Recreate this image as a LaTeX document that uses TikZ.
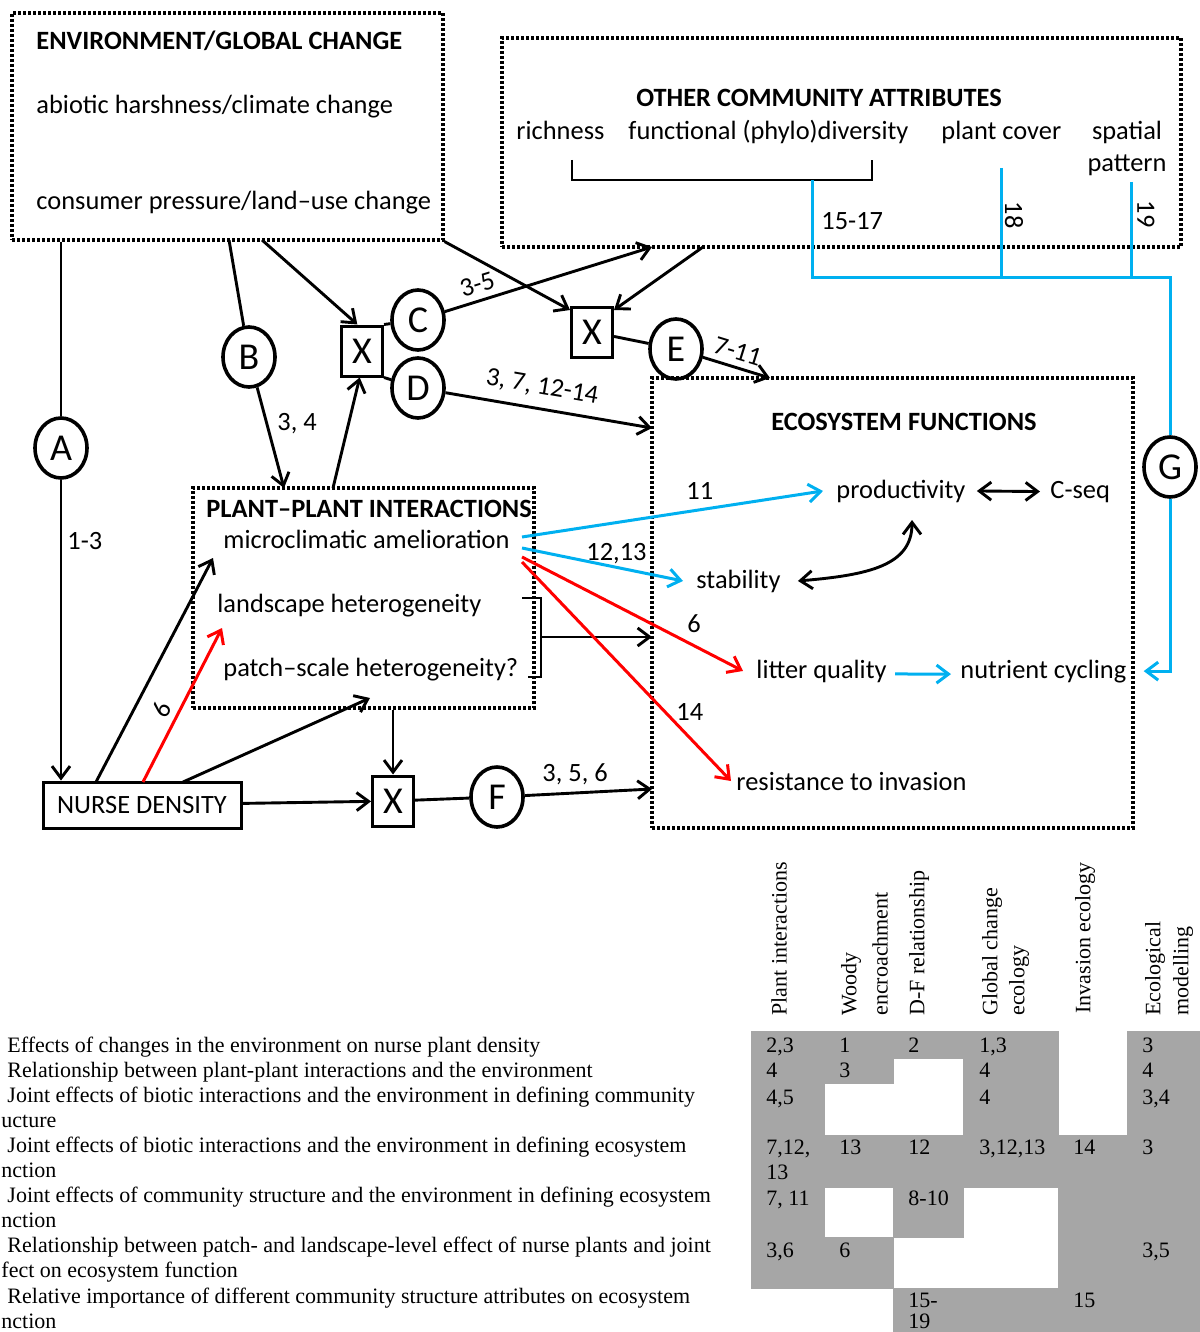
\documentclass[tikz,border=0pt]{standalone}
\usepackage{fontspec}
\setmainfont{Carlito}
\newfontfamily\tabfont{Liberation Serif}
\usetikzlibrary{shapes.geometric,arrows.meta}
\definecolor{fnblue}{RGB}{0,176,240}
\definecolor{fnred}{RGB}{255,0,0}
\definecolor{cellgray}{RGB}{166,166,166}

\begin{document}
\begin{tikzpicture}
  [x=0.5pt, y=-0.5pt, >={Straight Barb[length=6pt,width=9pt]}, line width=1.45pt,
   every node/.style={font=\fontsize{13.2}{15}\selectfont, inner sep=0pt},
   group/.style={draw=black, line width=1.6pt, dash pattern=on 1.4pt off 1.1pt},
   letter/.style={shape=ellipse, draw=black, line width=1.8pt, minimum width=26pt, minimum height=30pt, font=\fontsize{19}{19}\selectfont},
   cross/.style={shape=rectangle, draw=black, line width=1.5pt, minimum width=20.5pt, minimum height=25pt, font=\fontsize{19}{19}\selectfont},
   title/.style={font=\fontsize{13.2}{15}\selectfont\bfseries},
   cyanline/.style={draw=fnblue, line width=1.5pt},
   redline/.style={draw=fnred, line width=1.5pt},
   cell/.style={font=\tabfont\fontsize{11}{13}\selectfont, anchor=base west},
   head/.style={font=\tabfont\fontsize{11}{13}\selectfont, rotate=90, anchor=west}]
  \useasboundingbox (0,0) rectangle (1199,1332);

  % table shading
  \foreach \xa/\ya/\xb/\yb in {751/1031/824/1288, 824/1031/893/1083, 824/1135/893/1187,
      824/1237/893/1288, 893/1031/963/1058, 893/1135/963/1237, 893/1288/963/1332,
      963/1031/1058/1187, 963/1288/1058/1332, 1058/1135/1127/1332, 1127/1031/1199/1332}
    \filldraw[fill=cellgray, draw=cellgray, line width=0.4pt] (\xa,\ya) rectangle (\xb,\yb);

  % boxes
  \node[group, minimum width=215.5pt, minimum height=113.5pt] (env) at (227.5,126.5) {};
  \node[group, minimum width=339.5pt, minimum height=104.5pt] (other) at (841.5,142.5) {};
  \node[group, minimum width=170.5pt, minimum height=110pt] (plant) at (363.5,598) {};
  \node[group, minimum width=240.5pt, minimum height=225pt] (eco) at (892.5,603) {};
  \node[draw=black, line width=1.5pt, minimum width=99pt, minimum height=23pt] (nurse) at (142,805) {NURSE DENSITY};

  \node[title, anchor=base west] (envtitle) at (35,50) {ENVIRONMENT/GLOBAL CHANGE};
  \node[anchor=base west] (abiotic) at (35,114) {abiotic harshness/climate change};
  \node[anchor=base west] (consumer) at (35,210) {consumer pressure/land–use change};

  \node[title, anchor=base] (othtitle) at (819,107) {OTHER COMMUNITY ATTRIBUTES};
  \node[anchor=base west] (rich) at (515,140) {richness};
  \node[anchor=base west] (func) at (627,140) {functional (phylo)diversity};
  \node[anchor=base west] (cover) at (940,140) {plant cover};
  \node[anchor=base] (spatial) at (1127,140) {spatial};
  \node[anchor=base] (pattern) at (1127,172) {pattern};

  \node[title, anchor=base west] (pltitle) at (205,517) {PLANT–PLANT INTERACTIONS};
  \node[anchor=base west] (micro) at (222,548) {microclimatic amelioration};
  \node[anchor=base west] (land) at (216,612) {landscape heterogeneity};
  \node[anchor=base west] (patch) at (222,676) {patch–scale heterogeneity?};

  \node[title, anchor=base] (ecotitle) at (904,430) {ECOSYSTEM FUNCTIONS};
  \node[anchor=base west] (prod) at (835,498) {productivity};
  \node[anchor=base west] (cseq) at (1049,498) {C-seq};
  \node[anchor=base west] (stab) at (695,588) {stability};
  \node[anchor=base west] (litter) at (755,678) {litter quality};
  \node[anchor=base west] (cyc) at (959,678) {nutrient cycling};
  \node[anchor=base west] (resist) at (735,790) {resistance to invasion};

  % pathways
  \node[letter] (A) at (61,448) {A};
  \node[letter] (B) at (249,357) {B};
  \node[letter] (C) at (418,320) {C};
  \node[letter] (D) at (418,388) {D};
  \node[letter] (E) at (676,349) {E};
  \node[letter] (F) at (497,797) {F};
  \node[letter] (G) at (1170,467) {G};
  \node[cross] (x1) at (362,351) {X};
  \node[cross] (x2) at (592,332) {X};
  \node[cross] (x3) at (393,801) {X};

  \coordinate (envA) at (env.south -| A);
  \coordinate (envB) at (229,240);
  \coordinate (envX) at (262,240);
  \coordinate (envE) at (env.south east);
  \coordinate (othC) at (652,247);
  \coordinate (othE) at (703,247);
  \coordinate (plB) at (284,488);
  \coordinate (plX) at (333,488);
  \coordinate (plN) at (213,558);
  \coordinate (plR) at (222,628);
  \coordinate (plS) at (370,698);
  \coordinate (plF) at (plant.south -| x3);
  \coordinate (ndA) at (96,782);
  \coordinate (ndR) at (143,782);
  \coordinate (ndS) at (183,782);
  \coordinate (ecD) at (652,428);
  \coordinate (ecE) at (770,378);
  \coordinate (ecF) at (652,789);
  \coordinate (ecH) at (652,637);
  \coordinate (brk) at (541,637);

  \draw (envA) -- (A);
  \draw[->] (A) -- (A |- nurse.north);
  \draw (envB) -- (B);
  \draw[->] (B) -- (plB);
  \draw[->] (envX) -- (x1.100);
  \draw[->] (envE) -- (x2.135);
  \draw[->] (plX) -- (x1.265);
  \draw (x1.north east) -- (C);
  \draw (x1.south east) -- (D);
  \draw[->] (C) -- node[sloped, above=3pt, pos=0.18] (lab35) {3-5} (othC);
  \draw[->] (othE) -- (x2.45);
  \draw (x2) -- (E);
  \draw[->] (E) -- node[sloped, above=3pt, pos=0.45] (lab711) {7-11} (ecE);
  \draw[->] (D) -- node[sloped, above=5pt, pos=0.45] (labD) {3, 7, 12-14} (ecD);
  \draw[->] (ndA) -- (plN);
  \draw[->, redline] (ndR) -- node[sloped, above=3pt, pos=0.42] (lab6a) {6} (plR);
  \draw[->] (ndS) -- (plS);
  \draw[->] (plF) -- (x3);
  \draw[->] (nurse) -- (x3);
  \draw (x3) -- (F);
  \draw[->] (F) -- (ecF);
  \draw (522,598) -- (541,598) -- (541,677) -- (528,677);
  \draw[->] (brk) -- (ecH);
  \draw (572,160) -- (572,180) -- (872,180) -- (872,160);

  \node[anchor=base west] (lab13) at (66,549) {1-3};
  \node[anchor=base west] (lab34) at (276,430) {3, 4};
  \node[anchor=base west] (lab356) at (541,781) {3, 5, 6};

  % community attributes to nutrient cycling
  \coordinate (divfoot) at (812,180);
  \coordinate (busL) at (812,277);
  \coordinate (busR) at (G |- busL);
  \coordinate (coverfoot) at (1001,168);
  \coordinate (patfoot) at (1131,182);
  \draw[cyanline] (divfoot) -- (busL) -- (busR) -- (G);
  \draw[cyanline] (coverfoot) -- (coverfoot |- busL);
  \draw[cyanline] (patfoot) -- (patfoot |- busL);
  \draw[cyanline, ->] (G) -- (G |- cyc) -- ([xshift=8pt]cyc.east);
  \node[anchor=base west] (lab1517) at (820,230) {15-17};
  \node[rotate=-90] (lab18) at (1014,215) {18};
  \node[rotate=-90] (lab19) at (1146,214) {19};

  % plant interactions to functions
  \coordinate (m1) at (522,537);
  \coordinate (m2) at (522,548);
  \coordinate (m3) at (522,557);
  \coordinate (m4) at (522,562);
  \coordinate (prodfoot) at (912,520);
  \draw[cyanline, ->] (m1) -- ([xshift=-6pt]prod.west);
  \draw[cyanline, ->] (m2) -- ([xshift=-6pt]stab.west);
  \draw[redline, ->] (m3) -- ([xshift=-6pt]litter.west);
  \draw[redline, ->] (m4) -- ([xshift=-2pt]resist.west);
  \draw[<->] ([xshift=5pt]prod.east) -- ([xshift=-4.5pt]cseq.west);
  \draw[<->] ([xshift=8pt]stab.east) .. controls (870,575) and (912,565) .. (prodfoot);
  \draw[cyanline, ->] ([xshift=3.5pt,yshift=-1.5pt]litter.east) -- ([xshift=-4pt,yshift=-1.5pt]cyc.west);
  \node[anchor=base west] (lab11) at (685,499) {11};
  \node[anchor=base west] (lab1213) at (585,560) {12,13};
  \node[anchor=base west] (lab6b) at (686,632) {6};
  \node[anchor=base west] (lab14) at (675,720) {14};

  % table
  \node[head] (h1) at (779,1017) {Plant interactions};
  \node[head] (h2) at (851,1017) {Woody};
  \node[head] (h3) at (880,1017) {encroachment};
  \node[head] (h4) at (919,1017) {D-F relationship};
  \node[head] (h5) at (992,1017) {Global change};
  \node[head] (h6) at (1019,1017) {ecology};
  \node[head] (h7) at (1085,1015) {Invasion ecology};
  \node[head] (h8) at (1155,1017) {Ecological};
  \node[head] (h9) at (1183,1017) {modelling};

  \foreach \x/\t [count=\i, evaluate=\i as \y using 1052+25.1*(\i-1)] in {
      6/Effects of changes in the environment on nurse plant density,
      6/Relationship between plant-plant interactions and the environment,
      6/Joint effects of biotic interactions and the environment in defining community,
      0/ucture,
      6/Joint effects of biotic interactions and the environment in defining ecosystem,
      0/nction,
      6/Joint effects of community structure and the environment in defining ecosystem,
      0/nction,
      6/Relationship between patch- and landscape-level effect of nurse plants and joint,
      0/fect on ecosystem function,
      6/Relative importance of different community structure attributes on ecosystem,
      0/nction}
    \node[cell] (row\i) at (\x,\y) {\t};

  \foreach \x/\y/\t [count=\i] in {765/1052/{2,3}, 838/1052/1, 907/1052/2, 978/1052/{1,3}, 1141/1052/3,
      765/1077/4, 838/1077/3, 978/1077/4, 1141/1077/4,
      765/1104/{4,5}, 978/1104/4, 1141/1104/{3,4},
      765/1154/{7,12,}, 765/1179/13, 838/1154/13, 907/1154/12, 978/1154/{3,12,13}, 1072/1154/14, 1141/1154/3,
      765/1205/{7, 11}, 907/1205/8-10,
      765/1257/{3,6}, 838/1257/6, 1141/1257/{3,5},
      907/1307/15-, 907/1328/19, 1072/1307/15}
    \node[cell] (cell\i) at (\x,\y) {\t};
\end{tikzpicture}
\end{document}
